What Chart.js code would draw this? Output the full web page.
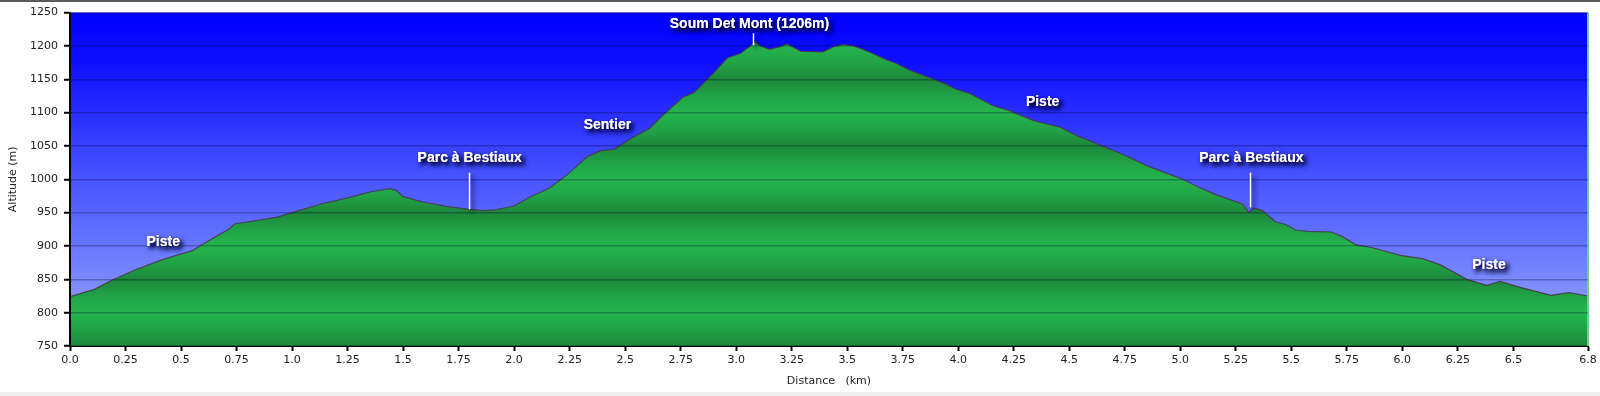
<!DOCTYPE html>
<html>
<head>
  <meta charset="utf-8">
  <title>Profil altimétrique</title>
  <style>
    body { margin: 0; background: #fff; }
  </style>
</head>
<body>
<canvas id="profileChart" width="1600" height="396"></canvas>

<script src="https://cdn.jsdelivr.net/npm/chart.js"></script>

<script type="text/javascript">
    // data
    const distKm = [
      0.00, 0.11, 0.19, 0.30, 0.42, 0.55, 0.64, 0.72, 0.74, 0.93,
      1.05, 1.13, 1.26, 1.35, 1.44, 1.47, 1.50, 1.59, 1.70, 1.80,
      1.86, 1.91, 2.00, 2.07, 2.16, 2.24, 2.33, 2.39, 2.45, 2.54,
      2.61, 2.66, 2.76, 2.81, 2.90, 2.96, 3.02, 3.06, 3.085, 3.11,
      3.15, 3.20, 3.23, 3.29, 3.39, 3.44, 3.48, 3.53, 3.60, 3.68,
      3.72, 3.78, 3.89, 3.95, 3.99, 4.05, 4.16, 4.23, 4.34, 4.46,
      4.53, 4.64, 4.73, 4.86, 5.01, 5.09, 5.16, 5.28, 5.31, 5.33,
      5.37, 5.43, 5.47, 5.52, 5.57, 5.68, 5.73, 5.79, 5.87, 5.99,
      6.09, 6.17, 6.29, 6.38, 6.44, 6.53, 6.67, 6.75, 6.836
    ];
    const altitudeM = [
      824, 835, 849, 865, 880, 893, 911, 926, 933, 943,
      955, 963, 973, 981, 986, 983, 974, 966, 959, 955,
      953, 954, 960, 973, 987, 1007, 1034, 1043, 1045, 1064,
      1076, 1093, 1123, 1130, 1160, 1182, 1189, 1199, 1206, 1200,
      1195, 1199, 1203, 1192, 1191, 1199, 1202, 1200, 1191, 1179,
      1174, 1164, 1150, 1142, 1135, 1129, 1110, 1103, 1088, 1078,
      1066, 1051, 1039, 1019, 1000, 987, 977, 963, 950, 957,
      953, 936, 933, 924, 922, 921, 914, 902, 897, 886,
      881, 872, 850, 841, 847, 838, 826, 830, 825
    ];

    // x ticks (the 6.75 tick is skipped, last one sits on the end)
    const xTickValues = [
      0, 0.25, 0.5, 0.75, 1, 1.25, 1.5, 1.75, 2, 2.25, 2.5, 2.75, 3, 3.25,
      3.5, 3.75, 4, 4.25, 4.5, 4.75, 5, 5.25, 5.5, 5.75, 6, 6.25, 6.5, 6.836
    ];
    const xTickLabels = [
      '0.0', '0.25', '0.5', '0.75', '1.0', '1.25', '1.5', '1.75', '2.0', '2.25', '2.5', '2.75', '3.0', '3.25',
      '3.5', '3.75', '4.0', '4.25', '4.5', '4.75', '5.0', '5.25', '5.5', '5.75', '6.0', '6.25', '6.5', '6.8'
    ];

    // waypoint labels: name, km, altitude of the text, optional pin (top / bottom altitude)
    const wpNames = ['Piste', 'Parc à Bestiaux', 'Sentier', 'Soum Det Mont (1206m)', 'Piste', 'Parc à Bestiaux', 'Piste'];
    const wpKm = [0.42, 1.80, 2.42, 3.06, 4.38, 5.32, 6.39];
    const wpTextAlt = [906, 1032, 1081, 1233, 1116, 1032, 872];
    const wpPinKm = [null, 1.798, null, 3.076, null, 5.316, null];
    const wpPinTop = [null, 1010, null, 1219, null, 1010, null];
    const wpPinBottom = [null, 955, null, 1201, null, 958, null];

    const tickFont = { family: 'DejaVu Sans', size: 11 };

    // sky gradient, page frame, right edge
    const backdrop = {
      id: 'backdrop',
      beforeDraw(chart) {
        const ctx = chart.ctx, a = chart.chartArea;
        ctx.save();
        ctx.fillStyle = '#ffffff';
        ctx.fillRect(0, 0, chart.width, chart.height);
        ctx.fillStyle = '#5a5a5a';
        ctx.fillRect(0, 0, chart.width, 2);
        ctx.fillStyle = '#efefef';
        ctx.fillRect(0, chart.height - 4, chart.width, 4);
        const g = ctx.createLinearGradient(0, a.top, 0, a.bottom);
        g.addColorStop(0, 'rgb(0,0,255)');
        g.addColorStop(0.15, 'rgb(14,14,255)');
        g.addColorStop(0.3, 'rgb(40,46,255)');
        g.addColorStop(0.5, 'rgb(72,84,255)');
        g.addColorStop(0.65, 'rgb(95,110,255)');
        g.addColorStop(0.82, 'rgb(125,140,250)');
        g.addColorStop(1, 'rgb(155,170,245)');
        ctx.fillStyle = g;
        ctx.fillRect(a.left, a.top, a.right - a.left, a.bottom - a.top);
        ctx.restore();
      },
      afterDatasetsDraw(chart) {
        const ctx = chart.ctx, a = chart.chartArea;
        ctx.save();
        ctx.strokeStyle = '#6fd08a';
        ctx.lineWidth = 2;
        ctx.beginPath();
        ctx.moveTo(a.right, a.top);
        ctx.lineTo(a.right, a.bottom);
        ctx.stroke();
        ctx.restore();
      }
    };

    // white labels with dark shadow
    const waypoints = {
      id: 'waypoints',
      afterDraw(chart) {
        const ctx = chart.ctx;
        const xs = chart.scales.x, ys = chart.scales.y;
        ctx.save();
        ctx.shadowColor = 'rgba(0,0,45,1)';
        ctx.shadowOffsetX = 3;
        ctx.shadowOffsetY = 3;
        ctx.shadowBlur = 5;
        ctx.fillStyle = '#ffffff';
        ctx.strokeStyle = '#ffffff';
        ctx.lineWidth = 1.5;
        ctx.font = 'bold 14px "Liberation Sans", Arial, sans-serif';
        ctx.textAlign = 'center';
        ctx.textBaseline = 'middle';
        wpNames.forEach((name, i) => {
          const tx = xs.getPixelForValue(wpKm[i]), ty = ys.getPixelForValue(wpTextAlt[i]);
          ctx.fillText(name, tx, ty);
          ctx.fillText(name, tx, ty);
          if (wpPinKm[i] !== null) {
            const px = Math.round(xs.getPixelForValue(wpPinKm[i])) + 0.5;
            ctx.beginPath();
            ctx.moveTo(px, ys.getPixelForValue(wpPinTop[i]));
            ctx.lineTo(px, ys.getPixelForValue(wpPinBottom[i]));
            ctx.stroke();
          }
        });
        ctx.restore();
      }
    };

    // green ground with soft horizontal bands
    function groundFill(context) {
      const chart = context.chart;
      const ys = chart.scales.y;
      if (!chart.chartArea || !ys) return '#22a84a';
      const top = ys.getPixelForValue(1250), bottom = ys.getPixelForValue(750);
      const g = chart.ctx.createLinearGradient(0, top, 0, bottom);
      for (let v = 1250; v >= 750; v -= 25) {
        const off = (ys.getPixelForValue(v) - top) / (bottom - top);
        const r = ((v % 100) + 100) % 100;
        let col;
        if (r === 50) col = '#1c873b';
        else if (r === 0) col = '#24b44e';
        else col = '#21a346';
        g.addColorStop(Math.min(1, Math.max(0, off)), col);
      }
      return g;
    }

    const profilePoints = distKm.map((d, i) => ({ x: d, y: altitudeM[i] }));

    const config = {
      type: 'line',
      data: {
        datasets: [{
          label: 'Altitude',
          data: profilePoints,
          borderColor: 'rgba(70,55,70,0.85)',
          borderWidth: 1.2,
          backgroundColor: groundFill,
          fill: 'start',
          pointRadius: 0,
          tension: 0
        }]
      },
      options: {
        responsive: false,
        animation: false,
        events: [],
        layout: { padding: { top: 7, right: 12, left: 0, bottom: 0 } },
        plugins: {
          legend: { display: false },
          tooltip: { enabled: false }
        },
        scales: {
          x: {
            type: 'linear',
            min: 0,
            max: 6.836,
            afterBuildTicks: axis => { axis.ticks = xTickValues.map(v => ({ value: v })); },
            afterFit: scale => { scale.height = 50; },
            ticks: {
              color: '#222',
              font: tickFont,
              padding: 3,
              maxRotation: 0,
              autoSkip: false,
              callback: (value, index) => xTickLabels[index]
            },
            grid: { drawOnChartArea: false, drawTicks: true, tickLength: 5, tickColor: '#000', tickWidth: 2 },
            border: { color: '#000', width: 2 },
            title: {
              display: true,
              text: 'Distance   (km)',
              color: '#222',
              font: tickFont,
              padding: { top: 4, bottom: 8 }
            }
          },
          y: {
            min: 750,
            max: 1250,
            afterFit: scale => { scale.width = 70; },
            ticks: {
              stepSize: 50,
              color: '#222',
              font: tickFont,
              padding: 6,
              callback: value => String(value)
            },
            grid: {
              z: 1,
              color: 'rgba(0,0,40,0.28)',
              lineWidth: 1.5,
              drawTicks: true,
              tickLength: 6,
              tickColor: '#000',
              tickWidth: 2
            },
            border: { color: '#000', width: 2, z: 2 },
            title: {
              display: true,
              text: 'Altitude (m)',
              color: '#222',
              font: tickFont,
              padding: { top: 7, bottom: 0 }
            }
          }
        }
      },
      plugins: [backdrop, waypoints]
    };

    const profileChart = new Chart(document.getElementById('profileChart'), config);
</script>
</body>
</html>
